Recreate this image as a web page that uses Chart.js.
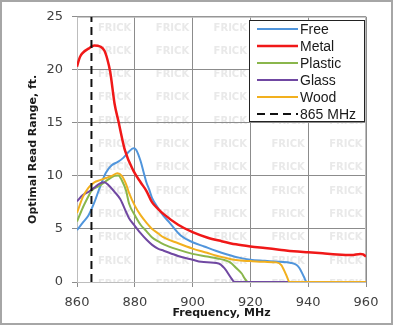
<!DOCTYPE html>
<html>
<head>
<meta charset="utf-8">
<script src="https://cdn.jsdelivr.net/npm/chart.js@4.4.1/dist/chart.umd.min.js"></script>
<style>
  html, body { margin: 0; padding: 0; background: #fff; }
  #wrap { width: 393px; height: 325px; }
</style>
</head>
<body>
<div id="wrap"><canvas id="rangeChart" width="393" height="325"></canvas></div>
<script>
// series labels (legend order)
const seriesNames = ["Free", "Metal", "Plastic", "Glass", "Wood", "865 MHz"];

// read range (ft) against frequency (MHz)
const freeFreq = [860, 862, 864, 866, 868, 870, 872, 874, 876, 878, 879.5, 880.5, 882, 883, 884, 885, 886, 888, 890, 892, 896, 900, 904, 908, 912, 916, 920, 925, 930, 934, 936, 937, 938.5, 939.5, 960];
const freeRange = [4.9, 5.6, 6.3, 7.5, 9.0, 10.3, 11.0, 11.3, 11.7, 12.3, 12.6, 12.45, 11.4, 10.4, 9.4, 8.7, 7.9, 7.0, 6.2, 5.6, 4.35, 3.75, 3.35, 2.95, 2.6, 2.3, 2.1, 2.0, 1.9, 1.8, 1.6, 1.3, 0.5, 0, 0];

const metalFreq = [860, 861, 862, 864, 866, 868, 869.5, 870.5, 871.5, 873, 874.3, 876.6, 879.5, 882, 884, 886, 888, 890, 895, 900, 905, 910, 915, 920, 925, 930, 935, 940, 945, 950, 955, 958, 959, 960];
const metalRange = [20.3, 21.2, 21.6, 22.0, 22.3, 22.2, 21.8, 21.0, 19.8, 16.8, 15.2, 12.4, 10.5, 9.4, 8.6, 7.5, 6.9, 6.4, 5.4, 4.7, 4.2, 3.85, 3.55, 3.35, 3.2, 3.05, 2.9, 2.8, 2.7, 2.6, 2.55, 2.65, 2.6, 2.4];

const plasticFreq = [860, 862, 864, 865, 868, 871, 873, 874.3, 875.5, 877, 878, 880, 882, 884, 886, 888, 890, 895, 900, 905, 909, 911, 913, 915, 917, 918, 919.2, 960];
const plasticRange = [5.7, 7.0, 8.1, 8.6, 9.1, 9.7, 10.0, 10.05, 9.6, 8.6, 7.4, 6.3, 5.4, 4.8, 4.2, 3.85, 3.55, 3.05, 2.65, 2.4, 2.2, 2.07, 1.85, 1.35, 0.8, 0.35, 0, 0];

const glassFreq = [860, 862, 864, 866, 868, 869.5, 871, 873, 875, 877, 878, 880, 882, 884, 886, 888, 890, 895, 900, 903, 909, 911, 913.4, 914.5, 960];
const glassRange = [7.6, 8.2, 8.5, 8.9, 9.3, 9.4, 9.1, 8.5, 7.8, 6.6, 6.0, 5.3, 4.6, 4.0, 3.5, 3.15, 2.95, 2.45, 2.1, 1.9, 1.75, 1.3, 0.35, 0, 0];

const woodFreq = [860, 862, 864, 866, 868, 870, 872, 874, 875.5, 877, 878, 880, 882, 884, 886, 888, 890, 895, 900, 905, 908, 911, 915, 920, 925, 929, 930.7, 932.4, 933.6, 960];
const woodRange = [6.5, 8.0, 8.9, 9.4, 9.6, 9.8, 10.0, 10.25, 10.0, 9.2, 8.4, 7.2, 6.3, 5.6, 5.0, 4.6, 4.2, 3.65, 3.15, 2.75, 2.5, 2.3, 2.07, 1.97, 1.9, 1.85, 1.6, 0.66, 0, 0];

// vertical marker at 865 MHz
const markerFreq = [865, 865];
const markerRange = [0, 25];

// axis ticks
const xTicks = [860, 880, 900, 920, 940, 960];
const yTicks = [0, 5, 10, 15, 20, 25];

function toPoints(xs, ys) {
    return xs.map((x, i) => ({ x: x, y: ys[i] }));
}

// fond blanc, cadre, filigrane
const backgroundPlugin = {
    id: "background",
    beforeDraw(chart) {
        const c = chart.ctx;
        const a = chart.chartArea;
        c.save();
        c.fillStyle = "#fff";
        c.fillRect(0, 0, chart.width, chart.height);
        c.strokeStyle = "#a6a6a6";
        c.lineWidth = 2;
        c.strokeRect(1, 1, chart.width - 2, chart.height - 2);
        c.beginPath();
        c.rect(a.left, a.top, a.right - a.left, a.bottom - a.top);
        c.clip();
        c.fillStyle = "#e9e9e9";
        c.font = "bold 10px 'DejaVu Sans'";
        c.textBaseline = "middle";
        for (let col = 0; col < 6; col++) {
            for (let row = 0; row < 12; row++) {
                c.fillText("FRICK", a.left + 21 + col * 57.8, 28 + row * 23.3);
            }
        }
        c.restore();
    },
    beforeDatasetsDraw(chart) {
        const c = chart.ctx;
        const a = chart.chartArea;
        c.save();
        c.strokeStyle = "#bdbdbd";
        c.lineWidth = 1;
        c.strokeRect(a.left + 0.5, a.top + 0.5, a.right - a.left - 1, a.bottom - a.top);
        c.restore();
    }
};

// légende dans la zone du graphique
const legendPlugin = {
    id: "boxLegend",
    afterDraw(chart) {
        const c = chart.ctx;
        const x0 = 249, y0 = 20, w = 115, h = 101;
        c.save();
        c.fillStyle = "#fff";
        c.fillRect(x0, y0, w, h);
        c.strokeStyle = "#222";
        c.lineWidth = 1;
        c.strokeRect(x0 + 0.5, y0 + 0.5, w, h);
        c.font = "14px 'Liberation Sans'";
        c.textBaseline = "middle";
        chart.data.datasets.forEach((ds, i) => {
            const y = 29 + i * 17;
            c.strokeStyle = ds.borderColor;
            c.lineWidth = ds.borderWidth;
            c.setLineDash(ds.borderDash || []);
            c.beginPath();
            c.moveTo(257, y);
            c.lineTo(298, y);
            c.stroke();
            c.setLineDash([]);
            c.fillStyle = "#1a1a1a";
            c.fillText(ds.label, 300, y + 1);
        });
        c.restore();
    }
};

const ctx = document.getElementById("rangeChart").getContext("2d");
new Chart(ctx, {
    type: "line",
    data: {
        datasets: [
            { label: seriesNames[0], data: toPoints(freeFreq, freeRange), borderColor: "#5095DC", borderWidth: 2, order: 5 },
            { label: seriesNames[1], data: toPoints(metalFreq, metalRange), borderColor: "#F01818", borderWidth: 2.5, order: 4 },
            { label: seriesNames[2], data: toPoints(plasticFreq, plasticRange), borderColor: "#8AB64C", borderWidth: 2, order: 3 },
            { label: seriesNames[3], data: toPoints(glassFreq, glassRange), borderColor: "#7048A2", borderWidth: 2, order: 2 },
            { label: seriesNames[4], data: toPoints(woodFreq, woodRange), borderColor: "#F2B01E", borderWidth: 2, order: 1 },
            { label: seriesNames[5], data: toPoints(markerFreq, markerRange), borderColor: "#111", borderWidth: 2, borderDash: [8, 5], order: 0, cubicInterpolationMode: "default", tension: 0 }
        ]
    },
    options: {
        responsive: false,
        animation: false,
        devicePixelRatio: 1,
        layout: { padding: { top: 16, right: 27, bottom: 0, left: 0 } },
        elements: {
            point: { radius: 0 },
            line: { cubicInterpolationMode: "monotone", fill: false }
        },
        plugins: {
            legend: { display: false },
            tooltip: { enabled: false }
        },
        scales: {
            x: {
                type: "linear",
                min: 860,
                max: 960,
                afterFit(scale) { scale.height = 43; },
                afterBuildTicks(scale) { scale.ticks = xTicks.map(v => ({ value: v })); },
                ticks: {
                    font: { family: "DejaVu Sans", size: 13 },
                    color: "#404040",
                    padding: 8,
                    maxRotation: 0
                },
                grid: { color: "#8c8c8c", borderDash: [4, 3], tickLength: 5, tickColor: "#8c8c8c", tickBorderDash: [] },
                border: { display: true, color: "#8c8c8c", dash: [] },
                title: {
                    display: true,
                    text: "Frequency, MHz",
                    font: { family: "DejaVu Sans", size: 11, weight: "bold" },
                    color: "#1a1a1a",
                    padding: { top: 0, bottom: 5 }
                }
            },
            y: {
                min: 0,
                max: 25,
                afterFit(scale) { scale.width = 77; },
                afterBuildTicks(scale) { scale.ticks = yTicks.map(v => ({ value: v })); },
                ticks: {
                    font: { family: "DejaVu Sans", size: 13 },
                    color: "#404040",
                    padding: 9
                },
                grid: { color: "#8c8c8c", borderDash: [4, 3], tickLength: 5, tickColor: "#8c8c8c", tickBorderDash: [] },
                border: { display: true, color: "#8c8c8c", dash: [] },
                title: {
                    display: true,
                    text: "Optimal Read Range, ft.",
                    font: { family: "DejaVu Sans", size: 11, weight: "bold" },
                    color: "#1a1a1a",
                    padding: { top: 27, bottom: 0 }
                }
            }
        }
    },
    plugins: [backgroundPlugin, legendPlugin]
});
</script>
</body>
</html>
